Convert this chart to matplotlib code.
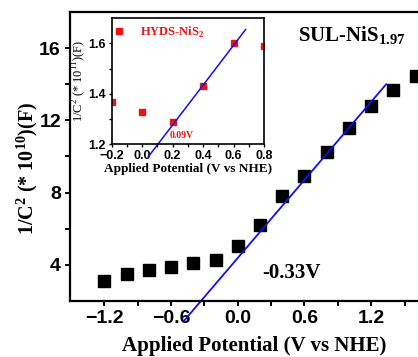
import matplotlib
matplotlib.use('Agg')
import matplotlib.pyplot as plt

plt.rcParams['mathtext.fontset'] = 'custom'
plt.rcParams['mathtext.rm'] = 'Liberation Serif'
plt.rcParams['mathtext.bf'] = 'Liberation Serif:bold'

# main data (SUL-NiS1.97)
potential = [-1.2, -1.0, -0.8, -0.6, -0.4, -0.2, 0.0, 0.2, 0.4, 0.6, 0.8, 1.0, 1.2, 1.4, 1.6]
inv_c2 = [3.1, 3.52, 3.72, 3.9, 4.09, 4.29, 5.07, 6.2, 7.82, 8.9, 10.25, 11.6, 12.78, 13.68, 14.46]
fit_x = [-0.49, 1.335]
fit_y = [0.86, 14.0]

# inset data (HYDS-NiS2)
inset_potential = [-0.2, 0.0, 0.2, 0.4, 0.6, 0.8]
inset_inv_c2 = [1.369, 1.329, 1.288, 1.43, 1.601, 1.59]
inset_fit_x = [0.041, 0.678]
inset_fit_y = [1.151, 1.655]

serif = 'Liberation Serif'
sans = 'Liberation Sans'

fig = plt.figure(figsize=(4.18, 3.57), dpi=100)
ax = fig.add_axes([0.1675, 0.1569, 0.88, 0.8095])

ax.plot(potential, inv_c2, 's', color='black', markersize=8)
ax.plot(fit_x, fit_y, color='#1010ee', lw=1.3, clip_on=False)

ax.set_xlim(-1.51, 1.8)
ax.set_ylim(2, 18)
ax.set_xticks([-1.2, -0.6, 0.0, 0.6, 1.2])
ax.set_xticks([-0.9, -0.3, 0.3, 0.9, 1.5], minor=True)
ax.set_yticks([4, 8, 12, 16])
ax.set_yticks([6, 10, 14], minor=True)
for s in ax.spines.values():
    s.set_linewidth(1.6)
ax.tick_params(which='both', direction='out', width=1.4, length=3.5)
ax.tick_params(axis='both', which='major', labelsize=14, pad=3)
for lab in ax.get_xticklabels() + ax.get_yticklabels():
    lab.set_fontfamily(sans)
    lab.set_fontweight('bold')

ax.set_xlabel('Applied Potential (V vs NHE)', fontfamily=serif, fontweight='bold', fontsize=15)
ax.xaxis.set_label_coords(0.5, -0.12)
ax.set_ylabel(r'1/C$^{\mathbf{2}}$ (* 10$^{\mathbf{10}}$)(F)', fontfamily=serif,
              fontweight='bold', fontsize=14.5)
ax.yaxis.set_label_coords(-0.082, 0.46)

ax.text(0.48, 3.56, '-0.33V', fontfamily=serif, fontweight='bold', fontsize=15,
        ha='center', va='center')
ax.text(0.54, 16.7, r'SUL-NiS$_{\mathbf{1.97}}$', fontfamily=serif, fontweight='bold',
        fontsize=15, ha='left', va='center')

# inset
ins = fig.add_axes([0.267, 0.5958, 0.365, 0.353])
ins.plot(inset_potential, inset_inv_c2, 's', color='#ee1111', markersize=4.5,
         label=r'HYDS-NiS$_{\mathbf{2}}$')
ins.plot(inset_fit_x, inset_fit_y, color='#1010ee', lw=1.1, clip_on=False)
ins.set_xlim(-0.2, 0.8)
ins.set_ylim(1.2, 1.7)
ins.set_xticks([-0.2, 0.0, 0.2, 0.4, 0.6, 0.8])
ins.set_xticks([-0.1, 0.1, 0.3, 0.5, 0.7], minor=True)
ins.set_yticks([1.2, 1.4, 1.6])
ins.set_yticks([1.3, 1.5], minor=True)
for s in ins.spines.values():
    s.set_linewidth(1.2)
ins.tick_params(which='both', direction='out', width=1.0, length=2.5)
ins.tick_params(axis='both', which='major', labelsize=9, pad=1.5)
for lab in ins.get_xticklabels() + ins.get_yticklabels():
    lab.set_fontfamily(sans)
    lab.set_fontweight('bold')
ins.set_xlabel('Applied Potential (V vs NHE)', fontfamily=serif, fontweight='bold',
               fontsize=9.5, labelpad=1)
ins.set_ylabel(r'1/C$^{2}$ (* 10$^{11}$)(F)', fontfamily=serif, fontsize=9, labelpad=0)
ins.text(0.26, 1.233, '0.09V', color='#ee1111', fontfamily=serif, fontweight='bold',
         fontsize=7, ha='center', va='center')
leg = ins.legend(loc='upper left', bbox_to_anchor=(-0.06, 1.04), frameon=False,
                 handlelength=0.8, handletextpad=1.3, labelcolor='#ee1111',
                 prop={'family': serif, 'weight': 'bold', 'size': 9})

fig.savefig('out.png', dpi=100)
